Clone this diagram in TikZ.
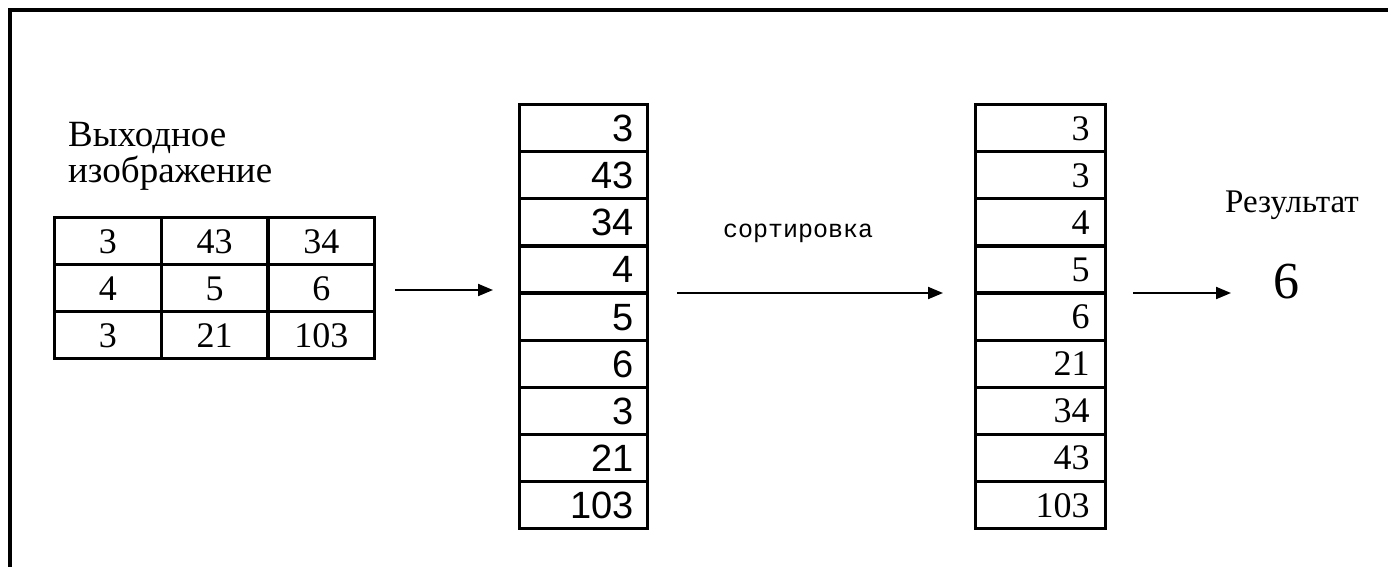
\documentclass[tikz,border=0pt]{standalone}
\usepackage{fontspec}
\setmainfont{Liberation Serif}
\newfontfamily\arialf{Liberation Sans}
\newfontfamily\courf{Liberation Mono}
\usetikzlibrary{arrows.meta}
\begin{document}
\begin{tikzpicture}[x=1pt,y=-1pt,
  cell/.style={draw, line width=3.2pt, minimum height=47.1pt, inner sep=0pt, anchor=north west, text depth=0pt},
  tcell/.style={cell, minimum width=106.67pt, minimum height=47pt, text height=24pt, font=\fontsize{36}{36}\selectfont},
  midcell/.style={cell, text width=100pt, align=right, inner xsep=14pt, text height=27pt, font=\arialf\fontsize{38}{38}\selectfont},
  rcell/.style={cell, text width=98pt, align=right, inner xsep=16pt, text height=24pt, font=\fontsize{36}{36}\selectfont},
  arr/.style={line width=2pt, -{Triangle[length=15pt,width=12pt]}},
  lbl/.style={inner sep=0pt}]
\useasboundingbox (0,0) rectangle (1388,566);
% frame
\draw[line width=3.2pt] (10,567) -- (10,10) -- (1389,10);
% source image label
\node[lbl, anchor=base west, font=\fontsize{37}{37}\selectfont] (lab1) at (68,146) {Выходное};
\node[lbl, anchor=base west, font=\fontsize{37}{37}\selectfont] (lab2) at (68,182) {изображение};
% source table
\foreach \v [count=\c] in {3,43,34} \node[tcell] (t1\c) at ({53+(\c-1)*106.67},216) {\v};
\foreach \v [count=\c] in {4,5,6} \node[tcell] (t2\c) at ({53+(\c-1)*106.67},263) {\v};
\foreach \v [count=\c] in {3,21,103} \node[tcell] (t3\c) at ({53+(\c-1)*106.67},310) {\v};
% flattened column
\foreach \v [count=\i] in {3,43,34,4,5,6,3,21,103}
  \node[midcell] (m\i) at (518,{103+(\i-1)*47.11}) {\v};
% sorted column
\foreach \v [count=\i] in {3,3,4,5,6,21,34,43,103}
  \node[rcell] (r\i) at (974,{103+(\i-1)*47.11}) {\v};
% labels
\node[lbl, anchor=base west, font=\courf\fontsize{25}{25}\selectfont] (sortlbl) at (723,237) {сортировка};
\node[lbl, anchor=base west, font=\fontsize{33}{33}\selectfont] (reslbl) at (1225,212) {Результат};
\node[lbl, anchor=base, font=\fontsize{52}{52}\selectfont] (res) at (1286,298) {6};
% arrows
\coordinate (a1s) at (395,290); \coordinate (a1e) at (493,290);
\coordinate (a2s) at (677,293); \coordinate (a2e) at (943,293);
\coordinate (a3s) at (1133,293); \coordinate (a3e) at (1231,293);
\draw[arr] (a1s) -- (a1e);
\draw[arr] (a2s) -- (a2e);
\draw[arr] (a3s) -- (a3e);
\end{tikzpicture}
\end{document}
